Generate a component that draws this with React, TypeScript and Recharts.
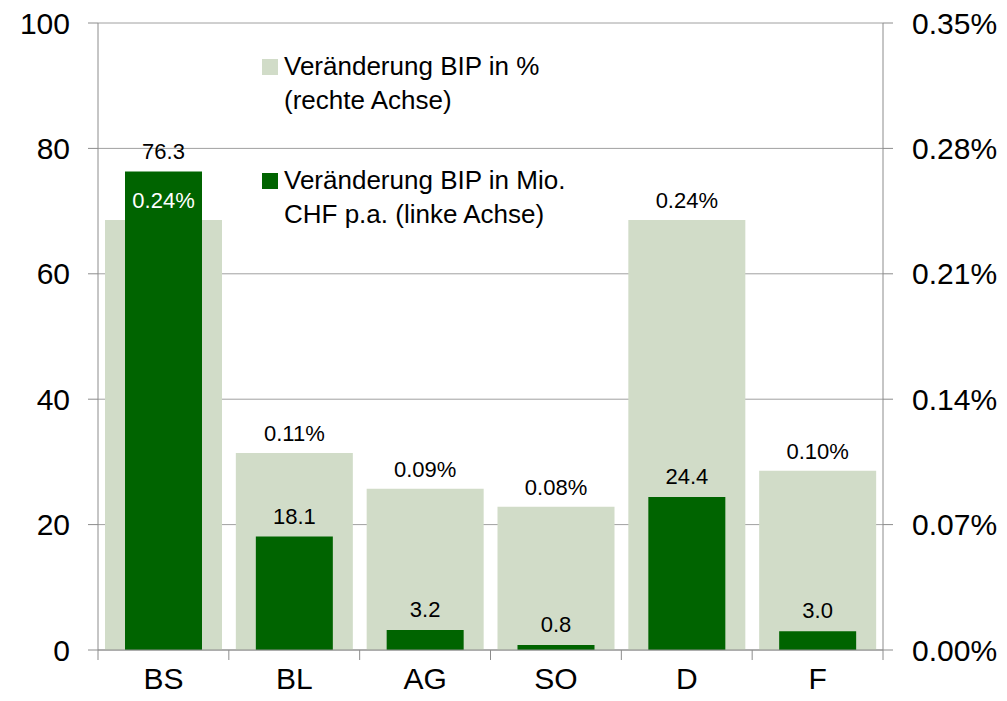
import {
  ComposedChart,
  Bar,
  XAxis,
  YAxis,
  CartesianGrid,
  LabelList,
} from 'recharts';

const categories = ['BS', 'BL', 'AG', 'SO', 'D', 'F'];
const pctChange = [0.24, 0.11, 0.09, 0.08, 0.24, 0.1];
const mioChf = [76.3, 18.1, 3.2, 0.8, 24.4, 3.0];
const leftTicks = [0, 20, 40, 60, 80, 100];
const rightTicks = [0, 0.07, 0.14, 0.21, 0.28, 0.35];

const data = categories.map((name, i) => ({ name, pct: pctChange[i], mio: mioChf[i] }));

const W = 1007;
const H = 701;
const LEFT_W = 98;
const RIGHT_W = 124;
const BAND = (W - LEFT_W - RIGHT_W) / categories.length;
const FONT = '"Liberation Sans", Arial, sans-serif';
const DARK = '#006400';
const LIGHT = '#d1dcc8';
const AXIS = '#8c8c8c';

function CategoryTick({ x, y, payload, index }: any) {
  const last = index === categories.length - 1;
  return (
    <g>
      <line x1={x - BAND / 2} x2={x - BAND / 2} y1={y} y2={y + 10} stroke={AXIS} />
      {last && <line x1={x + BAND / 2} x2={x + BAND / 2} y1={y} y2={y + 10} stroke={AXIS} />}
      <text x={x} y={y + 39} textAnchor="middle" fontSize={30} fill="#000" fontFamily={FONT}>
        {payload.value}
      </text>
    </g>
  );
}

function pctLabel(props: any) {
  const { x, y, width, value, index } = props;
  // label sits under the dark bar when that bar reaches higher
  const covered = mioChf[index] / 100 > pctChange[index] / 0.35 + 0.03;
  return (
    <text
      x={x + width / 2}
      y={y - 12}
      textAnchor="middle"
      fontSize={22}
      fill={covered ? '#fff' : '#000'}
      fontFamily={FONT}
    >
      {Number(value).toFixed(2)}%
    </text>
  );
}

function mioLabel(props: any) {
  const { x, y, width, value } = props;
  return (
    <text x={x + width / 2} y={y - 13} textAnchor="middle" fontSize={22} fill="#000" fontFamily={FONT}>
      {Number(value).toFixed(1)}
    </text>
  );
}

function LegendBox() {
  const item = (color: string, lines: string[], gap: number) => (
    <div style={{ display: 'flex', alignItems: 'flex-start', marginBottom: gap }}>
      <div style={{ width: 16, height: 16, background: color, marginTop: 10, marginRight: 6 }} />
      <div style={{ fontSize: 26, lineHeight: '34px', color: '#000' }}>
        {lines.map((l) => (
          <div key={l}>{l}</div>
        ))}
      </div>
    </div>
  );
  return (
    <div style={{ position: 'absolute', left: 262, top: 49, fontFamily: FONT }}>
      {item(LIGHT, ['Veränderung BIP in %', '(rechte Achse)'], 46)}
      {item(DARK, ['Veränderung BIP in Mio.', 'CHF p.a. (linke Achse)'], 0)}
    </div>
  );
}

export default function App() {
  return (
    <div style={{ position: 'relative', width: W, height: H, fontFamily: FONT, background: '#fff' }}>
      <style>{'body{margin:0}'}</style>
      <ComposedChart width={W} height={H} data={data} margin={{ top: 23, right: 0, bottom: 0, left: 0 }}>
        <CartesianGrid yAxisId="left" xAxisId="back" vertical={false} stroke="#a0a0a0" />
        <XAxis
          xAxisId="back"
          dataKey="name"
          height={51}
          axisLine={{ stroke: AXIS }}
          tickLine={false}
          tickSize={0}
          tickMargin={0}
          tick={<CategoryTick />}
          interval={0}
        />
        <XAxis xAxisId="front" dataKey="name" hide />
        <YAxis
          yAxisId="left"
          domain={[0, 100]}
          ticks={leftTicks}
          width={LEFT_W}
          axisLine={{ stroke: AXIS }}
          tickLine={{ stroke: AXIS }}
          tickSize={10}
          tickMargin={18}
          tick={{ fontSize: 30, fill: '#000', fontFamily: FONT }}
        />
        <YAxis
          yAxisId="right"
          orientation="right"
          domain={[0, 0.35]}
          ticks={rightTicks}
          width={RIGHT_W}
          axisLine={{ stroke: AXIS }}
          tickLine={{ stroke: AXIS }}
          tickSize={10}
          tickMargin={19}
          tickFormatter={(v: number) => `${v.toFixed(2)}%`}
          tick={{ fontSize: 30, fill: '#000', fontFamily: FONT, textAnchor: 'start' }}
        />
        <Bar
          xAxisId="back"
          yAxisId="right"
          dataKey="pct"
          name="Veränderung BIP in % (rechte Achse)"
          fill={LIGHT}
          barSize={117}
          isAnimationActive={false}
        >
          <LabelList dataKey="pct" content={pctLabel} />
        </Bar>
        <Bar
          xAxisId="front"
          yAxisId="left"
          dataKey="mio"
          name="Veränderung BIP in Mio. CHF p.a. (linke Achse)"
          fill={DARK}
          barSize={77}
          isAnimationActive={false}
        >
          <LabelList dataKey="mio" content={mioLabel} />
        </Bar>
      </ComposedChart>
      <LegendBox />
    </div>
  );
}
